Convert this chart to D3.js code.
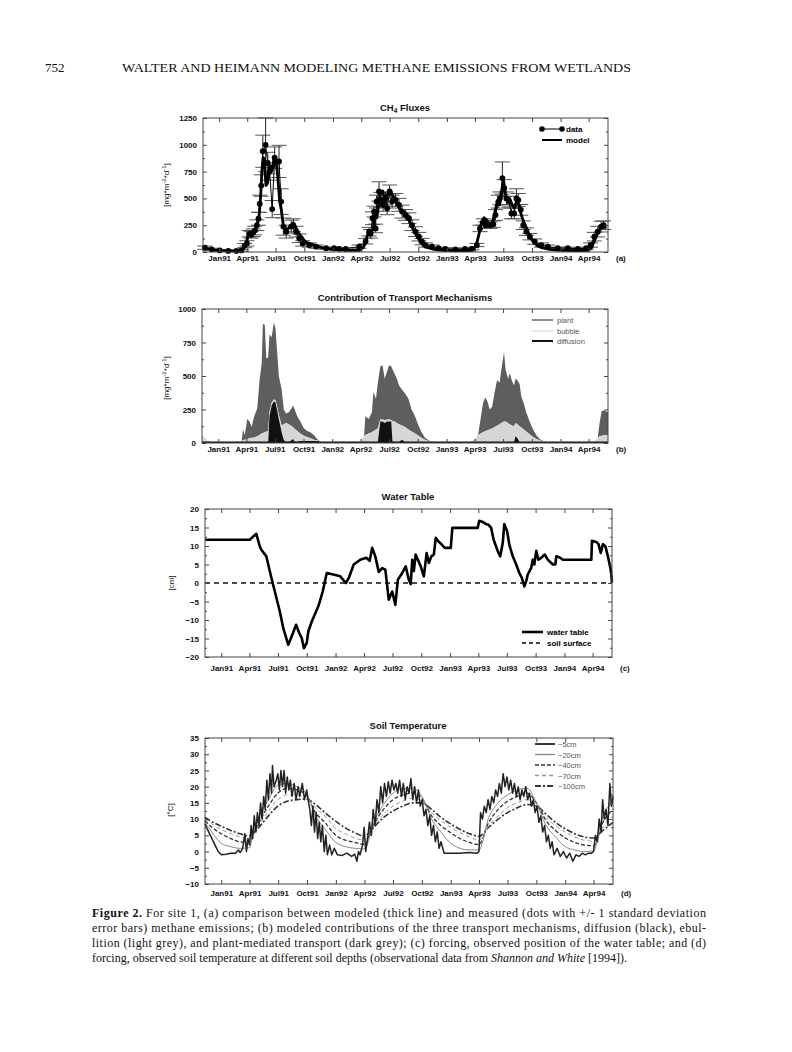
<!DOCTYPE html>
<html><head><meta charset="utf-8">
<script src="https://cdn.jsdelivr.net/npm/d3@7"></script>
<style>
body{margin:0;background:#fff}
svg{display:block}
text{font-family:"Liberation Sans",Arial,Helvetica,sans-serif}
.serif{font-family:"Liberation Serif","Times New Roman",serif}
</style>
</head><body>
<svg id="c" width="792" height="1052"></svg>
<script>
// ---------- DATA (days since 1 Jan 1991) ----------
const quarterDays = [0,90,181,273,365,456,547,639,731,821,912,1004,1096,1186];
const quarterLabels = ["Jan91","Apr91","Jul91","Oct91","Jan92","Apr92","Jul92","Oct92","Jan93","Apr93","Jul93","Oct93","Jan94","Apr94"];

// (a) measured CH4 flux: [day, value, sd]
const fluxData = [[-46,40,15],[-24,25,10],[2,15,8],[29,10,5],[55,10,5],[71,15,8],[82,60,20],[89,80,25],[96,170,30],[103,160,30],[109,180,35],[114,200,40],[121,250,50],[126,310,60],[130,450,80],[135,620,100],[140,940,150],[149,1000,250],[156,830,100],[162,750,80],[170,400,80],[178,880,100],[192,845,150],[199,470,120],[206,237,80],[215,190,60],[231,237,60],[238,250,60],[247,190,50],[257,128,40],[268,80,25],[289,65,20],[311,50,15],[343,35,10],[369,35,10],[385,30,10],[406,30,10],[449,50,15],[470,100,25],[481,190,40],[486,170,40],[492,315,60],[497,377,50],[502,220,40],[505,470,60],[513,565,90],[519,486,70],[526,440,60],[534,500,60],[539,408,60],[547,565,60],[555,470,60],[566,486,60],[577,440,60],[587,377,60],[598,346,50],[609,315,50],[619,250,50],[630,190,45],[641,143,40],[651,97,30],[662,65,20],[683,50,15],[704,35,10],[726,30,10],[758,25,10],[789,30,8],[811,30,10],[827,65,15],[837,220,30],[848,280,30],[855,250,30],[869,250,30],[880,260,30],[887,345,50],[896,470,60],[901,500,60],[909,690,150],[915,595,80],[922,500,60],[931,470,50],[938,360,50],[947,360,50],[954,500,90],[960,486,60],[968,393,50],[976,250,40],[986,190,35],[997,143,30],[1013,97,25],[1034,65,20],[1055,50,15],[1087,35,10],[1119,35,10],[1151,30,8],[1178,35,10],[1192,65,20],[1204,143,40],[1215,190,50],[1226,237,50],[1234,250,40]];
// (a) modelled CH4 flux: [day, value]
const fluxModel = [[-52,45],[-40,35],[-20,20],[0,15],[30,10],[60,10],[75,20],[85,60],[92,150],[100,150],[108,170],[115,190],[122,250],[128,330],[133,520],[137,750],[141,880],[145,870],[150,620],[155,640],[160,780],[165,800],[170,760],[176,880],[182,860],[188,700],[194,480],[200,380],[206,240],[213,210],[222,220],[232,250],[238,270],[246,230],[255,180],[265,140],[275,100],[287,80],[300,70],[315,55],[335,35],[360,25],[390,20],[420,15],[450,15],[462,40],[470,90],[478,180],[488,170],[495,230],[500,360],[506,320],[512,440],[518,560],[525,570],[532,470],[538,520],[545,570],[552,560],[560,510],[568,470],[576,420],[586,390],[596,360],[606,320],[616,250],[626,200],[636,140],[646,95],[656,60],[670,40],[690,25],[720,15],[760,12],[800,12],[815,20],[825,60],[835,180],[842,280],[850,320],[858,300],[866,250],[875,260],[884,360],[892,460],[900,440],[906,530],[913,670],[918,550],[926,470],[932,500],[940,440],[947,410],[954,470],[962,440],[970,340],[978,280],[987,220],[997,150],[1008,95],[1020,60],[1035,40],[1060,25],[1100,15],[1150,12],[1185,15],[1195,40],[1205,110],[1215,180],[1225,230],[1235,240],[1242,220]];

// (b) transport mechanisms
const transDays = [-52,-40,-25,66,75,79,85,93,100,107,114,125,132,139,143,149,154,160,164,171,178,183,188,194,203,210,217,226,235,239,245,253,263,274,285,295,306,317,327,450,458,467,471,482,492,497,505,511,519,526,533,540,547,554,558,564,572,579,588,598,609,619,630,641,651,662,673,683,806,811,821,832,840,848,855,862,869,877,885,893,901,906,915,920,928,933,941,947,952,957,965,970,979,986,997,1008,1018,1029,1045,1056,1205,1215,1221,1228,1237,1248];
const diffusion = [8,8,8,8,8,8,8,8,8,8,8,8,8,8,8,8,8,10,200,280,310,305,250,180,80,20,10,10,20,30,10,10,15,15,15,15,15,15,8,8,8,8,8,8,8,8,8,8,160,160,150,160,160,160,10,10,8,8,25,8,8,8,8,8,8,8,8,8,8,8,8,8,8,8,8,8,8,8,8,8,8,8,8,8,8,8,8,8,50,40,8,8,8,8,8,8,8,8,8,8,8,8,8,8,8,8];
const bubble    = [52,22,2,2,7,12,17,22,27,32,32,42,52,62,67,72,77,80,30,20,15,15,25,30,50,120,140,130,105,90,95,80,55,40,30,20,10,5,2,2,17,42,52,62,72,82,92,102,15,15,20,15,15,12,155,150,142,132,105,112,92,77,62,47,32,17,7,0,0,7,22,52,62,72,82,87,92,102,112,122,132,142,152,152,142,132,122,117,100,100,117,107,92,77,57,37,22,12,2,0,0,32,42,47,52,52];
const plant     = [0,0,0,0,0,80,35,150,125,80,150,210,400,520,815,800,545,550,580,490,575,540,425,290,270,110,70,90,135,160,145,110,90,55,45,45,35,10,0,0,0,0,140,110,150,290,230,340,395,405,310,355,405,398,385,360,330,290,270,250,230,165,130,75,40,15,5,0,0,0,0,0,110,220,250,215,150,160,260,340,310,390,520,390,330,380,330,305,330,330,315,235,190,145,95,55,30,10,0,0,0,0,100,185,180,170];

// (c) water table [cm]
const wtDays = [-51,91,112,123,128,144,150,160,171,187,198,214,225,239,249,257,264,273,278,289,310,324,337,358,380,398,407,423,444,463,474,482,492,503,514,524,535,546,556,564,578,589,599,605,610,615,621,628,637,647,656,663,671,679,685,693,704,714,733,738,819,824,835,846,853,862,870,883,891,899,904,913,920,931,942,952,960,968,974,979,990,995,1000,1006,1013,1022,1033,1043,1059,1067,1070,1081,1091,1182,1184,1198,1205,1212,1219,1227,1235,1244,1248];
const wtValues = [11.7,11.7,13.3,9.9,9.0,7.2,5.0,1.4,-2.3,-7.7,-12.2,-16.7,-14.4,-11.3,-13.5,-14.9,-17.6,-16.2,-13.1,-10.4,-6.3,-2.3,2.7,2.3,1.8,0.0,1.3,5.0,6.3,6.8,6.0,9.5,7.2,3.0,4.0,3.6,-4.5,-2.3,-5.9,0.9,2.7,4.5,0.9,-0.3,6.3,3.2,7.7,6.3,4.5,1.8,8.1,5.4,7.2,7.7,12.2,11.3,10.4,9.5,9.5,14.9,14.9,16.8,16.5,15.9,15.8,14.9,11.7,8.6,7.2,10.8,15.9,14.0,10.4,7.2,5.0,2.7,1.4,-0.9,0.5,2.3,4.1,6.3,5.0,8.7,6.3,6.8,7.7,6.3,5.0,5.0,7.2,6.9,6.3,6.3,11.4,11.1,10.5,8.1,10.5,9.9,7.2,3.6,0.2];

// (d) soil temperature [°C]
const soil5 = [[-52,8.5],[-40,6],[-25,3],[-10,0],[0,-1],[15,-0.8],[30,-0.5],[45,-0.5],[55,0.5],[60,-0.3],[68,1],[75,5.5],[80,0],[85,4],[90,2],[95,8],[100,4],[105,11],[110,6],[115,12],[120,8],[125,15],[130,10],[135,17],[140,13],[145,22],[150,16],[155,24],[160,18],[163,26.5],[168,20],[175,22],[180,24],[185,19],[190,25],[195,20],[200,25],[205,18],[210,23],[215,19],[220,22],[225,17],[232,21],[238,16],[245,20],[250,17],[258,21],[265,16],[272,19],[278,15],[282,13],[287,8],[292,14],[297,6],[302,12],[307,4],[312,9],[317,3],[322,8],[328,0],[333,5],[338,-1],[345,2],[352,-1],[360,1],[370,-1],[385,-1.2],[400,-0.5],[415,-1.5],[425,-0.8],[432,-3],[437,0],[442,-1],[450,2],[455,7.5],[460,0],[466,4],[472,9],[478,5],[484,13],[490,8],[496,16],[502,12],[508,20],[514,15],[520,21],[526,17],[532,21.5],[538,18],[544,22],[550,19],[556,21],[562,18],[568,22],[574,17],[580,21],[586,16],[592,20],[598,18],[604,22.5],[610,16],[616,20],[622,15],[628,19],[634,14],[640,16],[646,11],[652,13],[658,8],[664,11],[670,5],[676,8],[682,3],[688,6],[694,1],[700,3],[710,-0.5],[730,-0.5],[760,-0.5],[790,-0.3],[815,-0.5],[821,0],[826,12],[832,10],[838,14],[844,12],[850,16],[856,13],[862,17],[868,15],[874,19],[880,17],[886,21],[892,18],[898,24],[904,20],[910,23],[916,19],[922,22],[928,18],[934,21],[940,17],[946,20],[952,16],[958,19],[964,17],[970,20],[976,16],[982,18],[988,14],[994,16],[1000,12],[1006,14],[1012,9],[1018,11],[1024,6],[1030,8],[1036,3],[1042,5],[1048,1],[1054,3],[1060,-1],[1070,1],[1080,-1.5],[1090,0],[1100,-2],[1110,-0.5],[1120,-3],[1130,-1],[1140,-1.5],[1150,-0.5],[1160,-1],[1170,-0.5],[1180,-0.5],[1186,0],[1192,5],[1198,3],[1204,10],[1210,6],[1215,16],[1220,10],[1226,13],[1232,8],[1238,21],[1243,14],[1248,17]];
const tempDays = [-52,-30,0,30,60,90,100,120,150,180,210,240,270,300,330,365,395,425,456,486,517,547,578,609,639,670,700,731,761,791,821,852,882,912,943,974,1004,1035,1065,1096,1126,1156,1186,1216,1248];
const soil20  = [9,6,2.5,1.5,1,1.2,5,10.5,16,20.5,21,20,18,11,7,2.8,1.5,1,0.8,9,14.5,18,19.5,19.5,17,10,6,2.5,1,0.5,0.5,10.5,15,17.5,19,19.5,15,8,4.5,1.5,0.5,0,0.2,11,15];
const soil40  = [9.5,7.5,5.5,4,3,2.8,5,9,14,18,19.5,19,17.5,12,9,5,3.5,2.8,2.2,8.5,13,16,17.5,18,16.5,11,8,5.8,4,2.8,2.2,9,13,15.5,17,18,15,9.5,6.5,4.2,2.8,2,1.8,9,13];
const soil70  = [10,8.5,6.8,5.5,4.5,3.8,5,8,12.5,16,17.5,17.5,17,13.5,11,7,5.5,4.2,3.5,8,11.5,14,15.5,16.5,15.5,12,9.5,7.5,5.8,4.5,3.5,8,11,13.5,15,16,14.5,10.5,8,6,4.5,3.5,3.2,7.5,11];
const soil100 = [10.5,9.2,7.8,6.5,5.5,4.8,5.5,7.5,11,14,15.5,16,16.2,14.5,12,9.3,7.3,5.8,4.8,7.5,10.5,12.5,14,15,15,13,10.5,8.5,6.8,5.5,4.7,7.5,10,12,13.5,14.5,14,11.5,9,7,5.5,4.5,4.2,6.5,9];

// ---------- LAYOUT ----------
const svg = d3.select('#c');
svg.append('rect').attr('width',792).attr('height',1052).attr('fill','#fff');
const X_DOMAIN = [-52, 1248];
const P = {
  a:{l:203,r:608,t:118,b:252},
  b:{l:202,r:608,t:309,b:443},
  c:{l:205,r:612,t:509,b:657},
  d:{l:205,r:613,t:738,b:884}
};
const minus = v => (v<0 ? "\u2212"+Math.abs(v) : ""+v);

function panel(p, yDomain, yTicks, yMinor, bottomPad, letter){
  const x = d3.scaleLinear().domain(X_DOMAIN).range([p.l,p.r]);
  const y = d3.scaleLinear().domain(yDomain).range([p.b,p.t]);
  const plot = svg.append('g');
  const ax = svg.append('g');
  const rm = s => s.select('.domain').remove();
  ax.append('g').attr('transform',`translate(${p.l},0)`).call(d3.axisLeft(y).tickValues(yMinor).tickSize(-2).tickFormat('')).call(rm);
  ax.append('g').attr('transform',`translate(${p.r},0)`).call(d3.axisRight(y).tickValues(yMinor).tickSize(-2).tickFormat('')).call(rm);
  ax.append('g').attr('transform',`translate(${p.l},0)`).call(d3.axisLeft(y).tickValues(yTicks).tickSizeInner(-4).tickSizeOuter(0).tickPadding(6).tickFormat(minus)).call(rm);
  ax.append('g').attr('transform',`translate(${p.r},0)`).call(d3.axisRight(y).tickValues(yTicks).tickSize(-4).tickFormat('')).call(rm);
  ax.append('g').attr('transform',`translate(0,${p.t})`).call(d3.axisTop(x).tickValues(quarterDays).tickSize(-4).tickFormat('')).call(rm);
  ax.append('g').attr('transform',`translate(0,${p.b})`).call(d3.axisBottom(x).tickValues(quarterDays).tickSize(-4).tickPadding(bottomPad).tickFormat((d,i)=>quarterLabels[i])).call(rm);
  ax.append('rect').attr('x',p.l).attr('y',p.t).attr('width',p.r-p.l).attr('height',p.b-p.t)
    .attr('fill','none').attr('stroke','#444').attr('stroke-width',1);
  ax.selectAll('.tick line').attr('stroke','#444');
  ax.selectAll('.tick text').attr('font-size',8).attr('font-weight','bold').attr('fill','#111')
    .attr('font-family','"Liberation Sans",Arial,sans-serif');
  ax.append('text').attr('x',p.r+8).attr('y',p.b+bottomPad).attr('dy','0.71em')
    .attr('font-size',8).attr('font-weight','bold').attr('fill','#111').text(letter);
  return {x,y,plot,ax};
}
function title(x,y,txt){
  return svg.append('text').attr('x',x).attr('y',y).attr('text-anchor','middle')
    .attr('font-size',9.5).attr('font-weight','bold').attr('fill','#111').text(txt);
}
function fluxLabel(x,y){
  const t = svg.append('text').attr('transform',`translate(${x},${y}) rotate(-90)`)
    .attr('text-anchor','middle').attr('font-size',8).attr('fill','#111');
  t.append('tspan').text('[mg*m');
  t.append('tspan').attr('dy',-3).attr('font-size',6).text('-2');
  t.append('tspan').attr('dy',3).text('*d');
  t.append('tspan').attr('dy',-3).attr('font-size',6).text('-1');
  t.append('tspan').attr('dy',3).text(']');
}
function vlabel(x,y,txt){
  svg.append('text').attr('transform',`translate(${x},${y}) rotate(-90)`)
    .attr('text-anchor','middle').attr('font-size',8).attr('fill','#111').text(txt);
}

// ---------- HEADER ----------
svg.append('text').attr('class','serif').attr('x',45).attr('y',72).attr('font-size',13).attr('fill','#111').text('752');
svg.append('text').attr('class','serif').attr('x',122).attr('y',72).attr('font-size',12.5).attr('fill','#111')
  .attr('textLength',509).attr('lengthAdjust','spacingAndGlyphs')
  .text('WALTER AND HEIMANN  MODELING METHANE EMISSIONS FROM WETLANDS');

// ---------- PANEL A ----------
{
  const pa = panel(P.a,[0,1250],[0,250,500,750,1000,1250],d3.range(125,1250,250),3,'(a)');
  const {x,y,plot} = pa;
  const t = title(405,111,'CH');
  t.append('tspan').attr('dy',2).attr('font-size',6.5).text('4');
  t.append('tspan').attr('dy',-2).text(' Fluxes');
  fluxLabel(169,185);
  const eb = plot.append('g');
  fluxData.forEach(([d,v,s])=>{
    const lo = Math.max(0,v-s), hi = Math.min(1250,v+s);
    eb.append('line').attr('x1',x(d)).attr('x2',x(d)).attr('y1',y(lo)).attr('y2',y(hi)).attr('stroke','#222').attr('stroke-width',1);
    [lo,hi].forEach(e=>eb.append('line').attr('x1',x(d)-7.5).attr('x2',x(d)+7.5).attr('y1',y(e)).attr('y2',y(e)).attr('stroke','#555').attr('stroke-width',1));
  });
  plot.append('path').datum(fluxModel).attr('fill','none').attr('stroke','#000').attr('stroke-width',2.8)
    .attr('stroke-linejoin','round').attr('d',d3.line().x(d=>x(d[0])).y(d=>y(d[1])));
  plot.append('path').datum(fluxData).attr('fill','none').attr('stroke','#000').attr('stroke-width',1)
    .attr('d',d3.line().x(d=>x(d[0])).y(d=>y(d[1])));
  plot.selectAll('circle.pt').data(fluxData).enter().append('circle')
    .attr('cx',d=>x(d[0])).attr('cy',d=>y(d[1])).attr('r',2.9).attr('fill','#000');
  const lg = svg.append('g');
  lg.append('line').attr('x1',542).attr('x2',562).attr('y1',129).attr('y2',129).attr('stroke','#000').attr('stroke-width',1);
  [542,562].forEach(cx=>lg.append('circle').attr('cx',cx).attr('cy',129).attr('r',2.8).attr('fill','#000'));
  lg.append('text').attr('x',566).attr('y',132).attr('font-size',8).attr('font-weight','bold').text('data');
  lg.append('line').attr('x1',542).attr('x2',562).attr('y1',140).attr('y2',140).attr('stroke','#000').attr('stroke-width',2);
  lg.append('text').attr('x',566).attr('y',143).attr('font-size',8).attr('font-weight','bold').text('model');
}

// ---------- PANEL B ----------
{
  const pb = panel(P.b,[0,1000],[0,250,500,750,1000],d3.range(125,1000,250),3,'(b)');
  const {x,y,plot} = pb;
  title(405,301,'Contribution of Transport Mechanisms');
  fluxLabel(169,378);
  const rows = transDays.map((d,i)=>({day:d,diffusion:diffusion[i],bubble:bubble[i],plant:plant[i]}));
  const stack = d3.stack().keys(['diffusion','bubble','plant'])(rows);
  const colors = {diffusion:'#111',bubble:'#d6d6d6',plant:'#5e5e5e'};
  const area = d3.area().x(d=>x(d.data.day)).y0(d=>y(d[0])).y1(d=>y(d[1]));
  [2,1,0].forEach(k=>{
    plot.append('path').datum(stack[k]).attr('fill',colors[stack[k].key]).attr('d',area);
  });
  plot.append('line').attr('x1',x(X_DOMAIN[0])).attr('x2',x(X_DOMAIN[1])).attr('y1',y(0)-0.8).attr('y2',y(0)-0.8)
    .attr('stroke','#111').attr('stroke-width',1.2);
  const lg = svg.append('g');
  const items = [['plant','#666',1.5,320],['bubble','#cfcfcf',1,331],['diffusion','#111',2,341]];
  items.forEach(([n,c,w,yy])=>{
    lg.append('line').attr('x1',532).attr('x2',553).attr('y1',yy).attr('y2',yy).attr('stroke',c).attr('stroke-width',w);
    lg.append('text').attr('x',557).attr('y',yy+3).attr('font-size',7.5).attr('fill','#555').text(n);
  });
}

// ---------- PANEL C ----------
{
  const pc = panel(P.c,[-20,20],d3.range(-20,21,5),d3.range(-17.5,20,5),8,'(c)');
  const {x,y,plot} = pc;
  title(408,500,'Water Table');
  vlabel(174,583,'[cm]');
  plot.append('line').attr('x1',x(X_DOMAIN[0])).attr('x2',x(X_DOMAIN[1])).attr('y1',y(0)).attr('y2',y(0))
    .attr('stroke','#111').attr('stroke-width',1.5).attr('stroke-dasharray','5,4');
  const wt = wtDays.map((d,i)=>[d,wtValues[i]]);
  plot.append('path').datum(wt).attr('fill','none').attr('stroke','#000').attr('stroke-width',2.6)
    .attr('stroke-linejoin','round').attr('d',d3.line().x(d=>x(d[0])).y(d=>y(d[1])));
  const lg = svg.append('g');
  lg.append('line').attr('x1',522).attr('x2',543).attr('y1',632).attr('y2',632).attr('stroke','#000').attr('stroke-width',2.6);
  lg.append('text').attr('x',547).attr('y',635).attr('font-size',8).attr('font-weight','bold').text('water table');
  lg.append('line').attr('x1',522).attr('x2',543).attr('y1',643).attr('y2',643).attr('stroke','#000').attr('stroke-width',1.5).attr('stroke-dasharray','4,3');
  lg.append('text').attr('x',547).attr('y',646).attr('font-size',8).attr('font-weight','bold').text('soil surface');
}

// ---------- PANEL D ----------
{
  const pd = panel(P.d,[-10,35],d3.range(-10,36,5),d3.range(-7.5,35,5),6,'(d)');
  const {x,y,plot} = pd;
  title(408,729,'Soil Temperature');
  vlabel(173,810,'[\u00B0C]');
  const styles = [
    {name:'\u22125cm',  color:'#222', w:1.5, dash:null},
    {name:'\u221220cm', color:'#888', w:1.0, dash:null},
    {name:'\u221240cm', color:'#333', w:1.3, dash:'4,2'},
    {name:'\u221270cm', color:'#999', w:1.0, dash:'4,3'},
    {name:'\u2212100cm',color:'#333', w:1.6, dash:'6,2,2,2'}
  ];
  const series = [soil100, soil70, soil40, soil20];
  const sIdx = [4,3,2,1];
  const line = d3.line().x(d=>x(d[0])).y(d=>y(d[1]));
  series.forEach((vals,k)=>{
    const st = styles[sIdx[k]];
    plot.append('path').datum(tempDays.map((d,i)=>[d,vals[i]])).attr('fill','none')
      .attr('stroke',st.color).attr('stroke-width',st.w).attr('stroke-dasharray',st.dash)
      .attr('d',line.curve(d3.curveMonotoneX));
  });
  plot.append('path').datum(soil5).attr('fill','none').attr('stroke',styles[0].color).attr('stroke-width',styles[0].w)
    .attr('stroke-linejoin','round').attr('d',d3.line().x(d=>x(d[0])).y(d=>y(d[1])));
  const lg = svg.append('g');
  styles.forEach((st,i)=>{
    const yy = 744 + i*10.5;
    lg.append('line').attr('x1',535).attr('x2',555).attr('y1',yy).attr('y2',yy)
      .attr('stroke',st.color).attr('stroke-width',st.w+0.3).attr('stroke-dasharray',st.dash);
    lg.append('text').attr('x',558).attr('y',yy+3).attr('font-size',7.5).attr('fill','#555').text(st.name);
  });
}

// ---------- CAPTION ----------
{
  const cap = svg.append('g').attr('class','serif').attr('font-size',12).attr('fill','#111');
  const L = 92, W = 614;
  const l1 = cap.append('text').attr('class','serif').attr('x',L).attr('y',917).attr('textLength',W).attr('lengthAdjust','spacing');
  l1.append('tspan').attr('font-weight','bold').text('Figure 2.');
  l1.append('tspan').text('  For site 1, (a) comparison between modeled (thick line) and measured (dots with +/- 1 standard deviation');
  cap.append('text').attr('class','serif').attr('x',L).attr('y',932).attr('textLength',W).attr('lengthAdjust','spacing')
    .text('error bars) methane emissions; (b) modeled contributions of the three transport mechanisms, diffusion (black), ebul-');
  cap.append('text').attr('class','serif').attr('x',L).attr('y',947).attr('textLength',W).attr('lengthAdjust','spacing')
    .text('lition (light grey), and plant-mediated transport (dark grey); (c) forcing, observed position of the water table; and (d)');
  const l4 = cap.append('text').attr('class','serif').attr('x',L).attr('y',962);
  l4.append('tspan').text('forcing, observed soil temperature at different soil depths (observational data from ');
  l4.append('tspan').attr('font-style','italic').text('Shannon and White');
  l4.append('tspan').text(' [1994]).');
}
</script>
</body></html>
